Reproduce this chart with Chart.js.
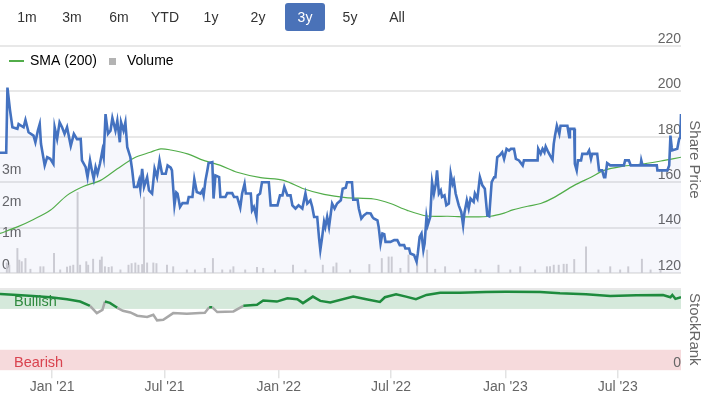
<!DOCTYPE html>
<html>
<head>
<meta charset="utf-8">
<script src="https://cdn.jsdelivr.net/npm/chart.js@4.4.1/dist/chart.umd.min.js"></script>
<style>
html,body{margin:0;padding:0;background:#fff;width:706px;height:393px;overflow:hidden;font-family:"Liberation Sans",Arial,sans-serif;}
#wrap{position:relative;width:706px;height:393px;}
.b{position:absolute;top:3px;height:28px;line-height:28px;width:40px;margin-left:-20px;text-align:center;font-size:14px;color:#333;border-radius:3px;z-index:3;}
.b.sel{background:#4a72b8;color:#fff;}
#c1{position:absolute;left:0;top:0;z-index:1;}
#c2{position:absolute;left:0;top:280px;z-index:2;}
</style>
</head>
<body>
<div id="wrap">
  <div class="b" style="left:27px">1m</div>
  <div class="b" style="left:72px">3m</div>
  <div class="b" style="left:119px">6m</div>
  <div class="b" style="left:165px">YTD</div>
  <div class="b" style="left:211px">1y</div>
  <div class="b" style="left:258px">2y</div>
  <div class="b sel" style="left:305px">3y</div>
  <div class="b" style="left:350px">5y</div>
  <div class="b" style="left:397px">All</div>
  <canvas id="c1" width="706" height="285"></canvas>
  <canvas id="c2" width="706" height="117"></canvas>
</div>
<script>
// ---------- data (x values are days since 2021-01-01) ----------
const rangeStart = '2020-10-09';
const rangeEnd = '2023-10-11';
const tickDates = ['2021-01-01','2021-07-01','2022-01-01','2022-07-01','2023-01-01','2023-07-01'];
const tickLabels = ["Jan '21","Jul '21","Jan '22","Jul '22","Jan '23","Jul '23"];
const priceTicks = [120,140,160,180,200,220];
const volumeTicks = [0,1,2,3];
const volumeTickLabels = ['0','1m','2m','3m'];

const priceDays = [
  -84,-74,-72,-68,-64,-56,-54,-46,-43,-38,
  -30,-27,-23,-20,-18,-12,-8,-3,2,4,
  8,12,16,20,24,30,35,40,46,48,
  54,57,61,64,67,70,73,77,81,83,
  86,90,94,97,102,105,109,111,115,118,
  121,126,129,132,137,140,142,145,148,153,
  156,161,165,169,173,177,183,186,191,193,
  197,200,202,206,210,218,220,226,229,233,
  239,242,244,247,250,252,258,260,263,269,
  271,279,282,290,293,298,303,306,310,312,
  320,322,325,329,331,335,338,349,352,363,
  367,371,374,379,384,387,392,397,403,408,
  411,416,419,422,427,430,432,435,438,440,
  443,446,451,455,459,465,468,473,475,483,
  485,492,494,498,502,507,513,516,518,524,
  526,529,532,535,537,545,551,556,560,567,
  569,575,577,583,587,589,592,595,598,600,
  603,605,609,612,615,618,620,623,626,628,
  632,635,639,642,645,647,650,655,659,662,
  664,668,671,674,679,681,685,689,693,697,
  701,704,708,712,714,717,721,725,728,732,
  736,739,744,747,752,758,760,766,782,783,
  787,790,793,795,798,802,806,808,810,813,
  817,819,830,833,834,841,842,845,847,852,
  854,862,865,868,870,878,881,886,889,891,
  894,899,921,923,929,932,948,949,951,974,
  975,991,994,996,998,999,1007,1010,1012,1013
];
const priceValues = [
  173,173,201.7,192,184.2,183.5,185.6,184.2,187.4,182,
  180.5,177.6,182.7,185.6,176.9,167.4,171,170.3,168.1,184.2,
  179.1,186.4,184.2,181.3,184.2,176,181.3,179,179.1,169.6,
  166.6,162.2,169.6,165.2,161.5,166.6,163.7,168.1,174,171,
  190,181.3,182.7,188.3,182.7,187.1,177.6,186.4,182.7,186.4,
  175.4,171,165.2,157.9,157.9,160.8,157.1,165.9,157.9,162.2,
  156.4,155,165.9,162.2,169.6,163.7,163.7,167.4,166.4,165.2,
  149.8,155.5,155,149.1,150.8,150.8,153.5,153.5,161.4,155.7,
  155,156.4,154.2,160.8,165.2,168.4,168.8,152.8,163,162.2,
  153.5,153.5,155.2,155.2,153.5,153.5,148.8,155,159.3,155,
  155,147.6,149.1,144.7,154.2,155,160,160,149.8,149.8,
  154.2,154.2,157.9,154.2,154.2,149.8,148.4,149.8,148.4,155,
  150.6,152,149.1,144.7,144.7,135.2,130.1,135.9,142.5,140.3,
  144.7,140.3,150.6,148.4,150.6,152,157.1,157.6,160,160,
  152.3,152.3,148.4,144,145.4,146.4,146.2,144.7,144,143.2,
  140.3,133,137.4,137.1,133.7,133.7,134.5,134.5,132.3,132.3,
  130.8,130.8,128.6,127.9,125,128.6,135.9,137.4,130.1,133,
  144.7,141.1,144.7,160,155,159.3,165.2,155,156.4,153.5,
  154.2,149.8,150.6,163.7,159.3,160.8,155,149.8,146.9,141,
  146.2,152,148.4,152.8,151.3,155,152.8,162.2,158.6,157.1,
  145.4,145,160,162.2,162.2,171,171.8,173.2,170.3,174.7,
  173.9,174.7,174.7,170.3,169.6,167.4,169.6,169.6,169.6,174.7,
  172.5,174.7,173.2,175.7,173.9,171.8,169.9,176.9,180.5,184.9,
  181.3,184.9,184.9,179.8,183.5,183.5,168.1,165.2,169.6,169.6,
  172.5,172.5,174,170.3,172.5,172.5,165.2,165.2,162.2,162.2,
  168.4,167.4,167.4,169.6,169.6,167.4,167.4,169.6,167.4,167.4,
  165.2,165.2,167.4,180.5,175.4,174,174.7,179,179.8,190
];

const smaDays = [-84,-56,-30,-3,24,51,78,105,132,158,175,191,218,244,271,298,336,373,405,438,
  473,518,545,572,604,637,679,706,728,742,766,787,808,841,868,889,916,954,986,1013];
const smaValues = [137.4,140.3,143.6,147.6,154.2,158.2,160.8,165.9,170.7,173.2,174.7,174.2,172.5,169.6,167.4,164.4,162,160.8,157.1,154.6,
  153.2,152.6,150.6,147.6,145.1,145,144.7,145,146.4,147.8,149.4,150.6,153.2,158.6,162.2,165.2,166.9,168.1,169.6,171];

const volumeDays = [-73,-69,-56,-53,-49,-43,-35,-19,-14,3,13,24,29,34,41,45,55,58,66,77,
  80,85,91,96,110,123,128,134,139,145,148,153,163,168,185,195,217,230,246,259,
  274,287,292,311,330,340,359,388,408,436,453,458,480,511,531,542,547,561,574,588,
  604,617,633,657,682,690,719,738,754,778,797,802,808,816,824,829,841,860,880,899,
  915,928,950,964,980];
const volumeMillions = [0.32,0.25,0.78,0.41,0.36,0.46,0.12,0.2,0.2,0.62,0.1,0.19,0.22,0.25,2.56,0.25,0.36,0.25,0.44,0.41,
  0.51,0.2,0.18,0.2,0.1,0.25,0.3,0.32,0.25,0.27,2.41,0.32,0.32,0.3,0.25,0.2,0.1,0.1,0.15,0.46,
  0.1,0.1,0.2,0.1,0.18,0.15,0.1,0.25,0.1,0.25,0.2,0.32,0.1,0.27,0.46,0.51,0.51,0.15,0.57,0.36,
  0.73,0.12,0.2,0.1,0.12,0.1,0.25,0.1,0.2,0.1,0.2,0.2,0.25,0.25,0.28,0.28,0.43,0.83,0.1,0.2,
  0.1,0.2,0.44,0.1,0.1];

const rankDays = [-84,-56,-31,-3,24,45,61,72,81,85,93,105,114,126,137,153,163,169,179,195,
  217,238,246,253,258,266,292,308,330,340,362,379,395,404,420,432,448,485,506,528,
  536,554,570,586,603,625,657,699,731,786,818,860,899,941,984,996,999,1004,1013];
const rankValues = [93.3,92.1,90.9,89.3,86.9,84,78.8,69.9,73.9,84,82.4,76.4,72.7,70.7,66.7,65.1,67.9,61,61.8,69.9,
  69.1,69.9,70.3,77,77,71.2,71.9,78.8,80,85.2,84,88.1,86.9,82.1,90.1,84.8,82.8,90.1,86.9,83.6,
  89.3,93,90.1,86.9,92.1,94.9,94.9,95.8,96.1,95.8,94.2,93,90.9,91.8,92.1,89.3,92.1,87.3,89.3];

const bandLabels = ['Bullish','Bearish'];
const bandFrom = [75, 0];
const bandTo = [100, 25];
const bullishThreshold = 75;

// ---------- helpers ----------
const DAY0 = Date.UTC(2021,0,1);
const dayOf = s => { const p = s.split('-').map(Number); return Math.round((Date.UTC(p[0],p[1]-1,p[2]) - DAY0) / 864e5); };
const xMin = dayOf(rangeStart), xMax = dayOf(rangeEnd);
const zip = (xs, ys) => xs.map((x, i) => ({x: x, y: ys[i]}));

Chart.defaults.font.family = '"Liberation Sans", Arial, sans-serif';
Chart.defaults.animation = false;

function swatch(w, h, color) {
  const c = document.createElement('canvas'); c.width = w; c.height = h;
  const g = c.getContext('2d'); g.fillStyle = color; g.fillRect(0, 0, w, h); return c;
}
const SMA_COLOR = '#52ad4a', VOL_COLOR = '#cbcbd3', PRICE_COLOR = '#4472c0';
const legendLine = swatch(15, 2, SMA_COLOR);
const legendSquare = swatch(7, 7, '#b3b3b3');

const floatLegend = {
  id: 'floatLegend',
  beforeDraw(chart) { const lg = chart.legend; if (lg) { lg.bottom = lg.top + 40; lg.height = 40; } }
};

// ---------- top chart: price, SMA, volume ----------
new Chart(document.getElementById('c1'), {
  type: 'line',
  data: {
    datasets: [
      { label: 'Share Price', data: zip(priceDays, priceValues), yAxisID: 'yPrice', borderColor: PRICE_COLOR,
        borderWidth: 2.6, pointRadius: 0, tension: 0, fill: 'start', backgroundColor: 'rgba(70,100,190,0.05)', order: 1 },
      { label: 'SMA (200)', data: zip(smaDays, smaValues), yAxisID: 'yPrice', borderColor: SMA_COLOR,
        borderWidth: 1.2, pointRadius: 0, tension: 0.3, fill: false, order: 2 },
      { type: 'bar', label: 'Volume', data: zip(volumeDays, volumeMillions), yAxisID: 'yVol',
        backgroundColor: VOL_COLOR, barThickness: 1.3, grouped: false, order: 3 }
    ]
  },
  options: {
    responsive: false,
    devicePixelRatio: 1,
    layout: { padding: { top: 45, bottom: 12, left: 0, right: 0 } },
    plugins: {
      filler: { drawTime: 'beforeDatasetsDraw' },
      tooltip: { enabled: false },
      legend: {
        position: 'top', align: 'start', maxHeight: 1,
        labels: {
          usePointStyle: true, boxWidth: 14, padding: 9, color: '#333', font: { size: 14 },
          generateLabels: () => [
            { text: 'SMA (200)', pointStyle: legendLine, fillStyle: SMA_COLOR, strokeStyle: SMA_COLOR, lineWidth: 0, hidden: false, datasetIndex: 1 },
            { text: 'Volume', pointStyle: legendSquare, fillStyle: '#b3b3b3', strokeStyle: '#b3b3b3', lineWidth: 0, hidden: false, datasetIndex: 2 }
          ]
        }
      }
    },
    scales: {
      x: { type: 'linear', min: xMin, max: xMax, display: false, offset: false },
      yPrice: {
        position: 'right', min: priceTicks[0], max: priceTicks[priceTicks.length - 1],
        afterBuildTicks: ax => { ax.ticks = priceTicks.map(v => ({ value: v })); },
        afterFit: ax => { ax.width = 25; },
        grid: { color: '#e8e8e8', lineWidth: 2, drawTicks: false },
        border: { display: false },
        ticks: { mirror: true, padding: 0, labelOffset: -7, color: '#666', font: { size: 14 }, callback: v => String(v) },
        title: { display: true, text: 'Share Price', color: '#666', font: { size: 15 }, padding: { top: 3, bottom: 0 } }
      },
      yVol: {
        position: 'left', min: 0, max: 7.2,
        afterBuildTicks: ax => { ax.ticks = volumeTicks.map(v => ({ value: v })); },
        afterFit: ax => { ax.width = 0; },
        grid: { display: false, drawTicks: false },
        border: { display: false },
        ticks: { mirror: true, padding: 2, labelOffset: -8, color: '#666', font: { size: 14 }, callback: (v, i) => volumeTickLabels[i] }
      }
    }
  },
  plugins: [floatLegend]
});

// ---------- bottom chart: StockRank ----------
const BAND_FILL = ['#d5e9db', '#f6dadc'];
const BAND_TEXT = ['#2f8a3e', '#d9434f'];
const rankBands = {
  id: 'rankBands',
  beforeDraw(chart) {
    const { ctx, chartArea: a, scales } = chart; const s = scales.yRank;
    bandLabels.forEach((lab, i) => {
      const y1 = s.getPixelForValue(bandTo[i]), y2 = s.getPixelForValue(bandFrom[i]);
      ctx.save(); ctx.fillStyle = BAND_FILL[i]; ctx.fillRect(a.left, y1, a.right - a.left, y2 - y1); ctx.restore();
    });
  },
  beforeDatasetsDraw(chart) {
    const { ctx, chartArea: a, scales } = chart; const s = scales.yRank;
    bandLabels.forEach((lab, i) => {
      const y1 = s.getPixelForValue(bandTo[i]), y2 = s.getPixelForValue(bandFrom[i]);
      ctx.save(); ctx.fillStyle = BAND_TEXT[i]; ctx.font = '14.5px "Liberation Sans", Arial, sans-serif';
      ctx.textBaseline = 'middle'; ctx.textAlign = 'left';
      ctx.fillText(lab, a.left + 14, (y1 + y2) / 2 + 3); ctx.restore();
    });
  }
};

new Chart(document.getElementById('c2'), {
  type: 'line',
  data: {
    datasets: [
      { label: 'StockRank', data: zip(rankDays, rankValues), yAxisID: 'yRank', borderColor: '#1e8b3d', borderWidth: 2.5,
        pointRadius: 0, tension: 0, fill: false,
        segment: { borderColor: c => Math.min(c.p0.parsed.y, c.p1.parsed.y) < bullishThreshold ? '#a8a8a8' : '#1e8b3d' } }
    ]
  },
  options: {
    responsive: false,
    devicePixelRatio: 1,
    layout: { padding: { top: 8.5, bottom: 0, left: 0, right: 0 } },
    plugins: { legend: { display: false }, tooltip: { enabled: false } },
    scales: {
      x: {
        type: 'linear', min: xMin, max: xMax, offset: false,
        afterBuildTicks: ax => { ax.ticks = tickDates.map(d => ({ value: dayOf(d) })); },
        grid: { drawOnChartArea: false, drawTicks: true, tickLength: 8, color: '#e3e3e3', lineWidth: 1.5 },
        border: { display: false },
        ticks: { autoSkip: false, maxRotation: 0, padding: 1, color: '#666', font: { size: 14 }, callback: (v, i) => tickLabels[i] }
      },
      yRank: {
        position: 'right', min: 0, max: 100,
        afterBuildTicks: ax => { ax.ticks = [{ value: 0 }, { value: 100 }]; },
        afterFit: ax => { ax.width = 25; },
        grid: { drawTicks: false, lineWidth: 2, color: c => (c.tick && c.tick.value === 100) ? '#e8e8e8' : 'rgba(0,0,0,0)' },
        border: { display: false },
        ticks: { mirror: true, padding: 0, labelOffset: -7, color: '#666', font: { size: 14 }, callback: v => (v === 0 ? '0' : '') },
        title: { display: true, text: 'StockRank', color: '#666', font: { size: 15 }, padding: { top: 3, bottom: 0 } }
      }
    }
  },
  plugins: [rankBands]
});
</script>
</body>
</html>
